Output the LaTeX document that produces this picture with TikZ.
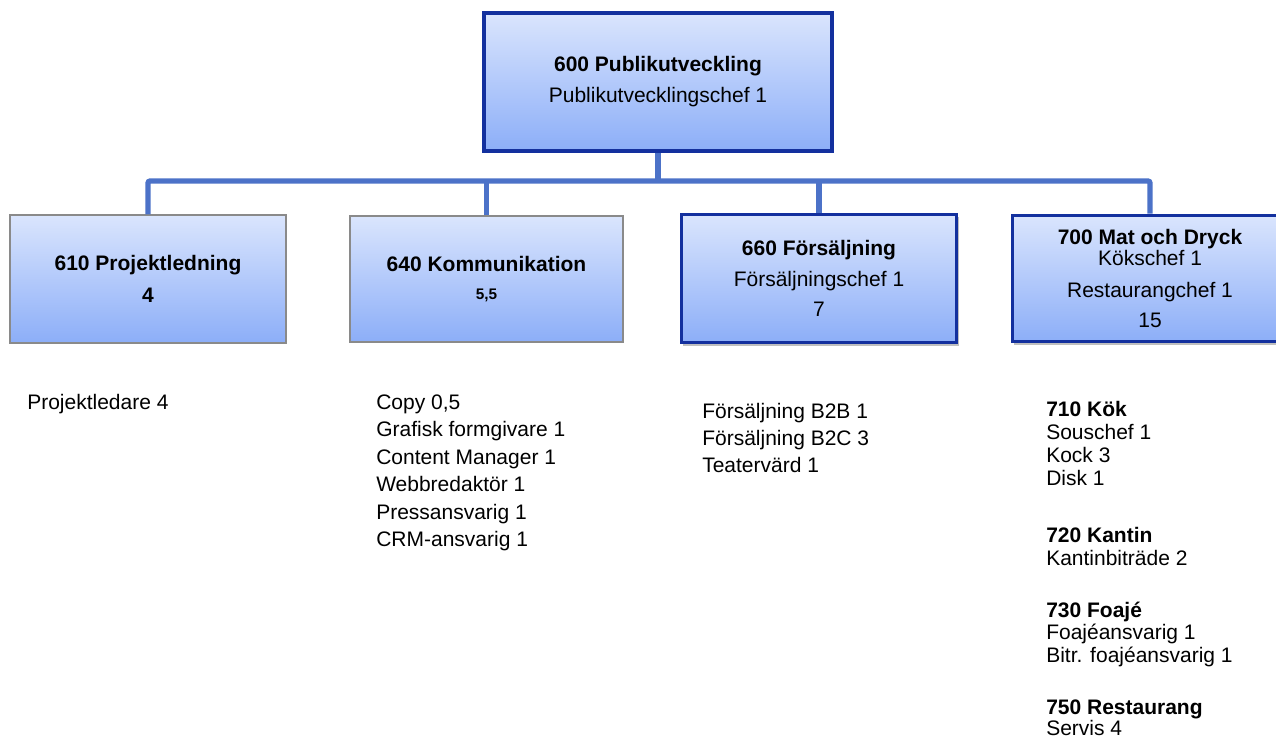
\documentclass[tikz,border=0pt]{standalone}
\usepackage{fontspec}
\setmainfont{Liberation Sans}
\usetikzlibrary{shadows}
\definecolor{connblue}{HTML}{4C72C8}
\definecolor{boxblue}{HTML}{13309E}
\definecolor{boxgray}{HTML}{8A8A8A}
\definecolor{boxtop}{HTML}{DAE5FD}
\definecolor{boxbot}{HTML}{8CAEF8}
\tikzset{
  orgbox/.style={rectangle, inner sep=0pt, top color=boxtop, bottom color=boxbot,
    align=center, text=black, font=\fontsize{15.75pt}{23.25pt}\selectfont},
  plainbox/.style={orgbox, draw=boxgray, line width=1.1pt},
  strongbox/.style={orgbox, draw=boxblue, line width=2.25pt},
  topbox/.style={orgbox, draw=boxblue, line width=3pt},
  shadowed/.style={drop shadow={shadow xshift=1.5pt, shadow yshift=-2.5pt, fill=black, opacity=0.25}},
  conn/.style={draw=connblue, line width=3.9pt, rounded corners=1.5pt},
  listtext/.style={anchor=base west, inner sep=0pt, text=black, font=\fontsize{15.75pt}{18pt}\selectfont},
}
\begin{document}
\begin{tikzpicture}[x=0.75pt,y=-0.75pt]
\useasboundingbox (0,0) rectangle (1276,737);
\fill[white] (0,0) rectangle (1276,737);

% boxes
\node[topbox, minimum width=261pt, minimum height=104pt] (n600) at (658,82)
  {\textbf{600 Publikutveckling}\\Publikutvecklingschef 1};
\node[plainbox, minimum width=207pt, minimum height=96pt] (n610) at (148,279)
  {\textbf{610 Projektledning}\\[0.75pt]\textbf{4}};
\node[plainbox, minimum width=204.75pt, minimum height=94.5pt] (n640) at (486.5,279)
  {\textbf{640 Kommunikation}\\[-2.25pt]{\fontsize{11.5pt}{13pt}\selectfont\bfseries 5,5}};
\node[strongbox, shadowed, minimum width=206.5pt, minimum height=96.5pt] (n660) at (819,278.5)
  {\textbf{660 Försäljning}\\[-0.35pt]Försäljningschef 1\\[-0.35pt]7};
\node[strongbox, shadowed, minimum width=206.5pt, minimum height=95pt] (n700) at (1150,278.5)
  {\textbf{700 Mat och Dryck}\\[-7.5pt]Kökschef 1\\[0.75pt]Restaurangchef 1\\[-0.75pt]15};

% connectors
\coordinate (bus) at (658,181);
\draw[conn] (n610.north) |- (bus) -| (n700.north);
\draw[conn] (n600.south) -- (bus);
\draw[conn] (n640.north) -- (n640.north |- bus);
\draw[conn] (n660.north) -- (n660.north |- bus);

% lists
\node[listtext] (p1) at (27,409) {Projektledare 4};

\node[listtext] (k1) at (376,409) {Copy 0,5};
\node[listtext] (k2) at (376,436.5) {Grafisk formgivare 1};
\node[listtext] (k3) at (376,464) {Content Manager 1};
\node[listtext] (k4) at (376,491.5) {Webbredaktör 1};
\node[listtext] (k5) at (376,519) {Pressansvarig 1};
\node[listtext] (k6) at (376,546.5) {CRM-ansvarig 1};

\node[listtext] (f1) at (702,418) {Försäljning B2B 1};
\node[listtext] (f2) at (702,445) {Försäljning B2C 3};
\node[listtext] (f3) at (702,472) {Teatervärd 1};

\node[listtext] (m1) at (1046,416) {\textbf{710 Kök}};
\node[listtext] (m2) at (1046,439) {Souschef 1};
\node[listtext] (m3) at (1046,462) {Kock 3};
\node[listtext] (m4) at (1046,485) {Disk 1};

\node[listtext] (m5) at (1046,542) {\textbf{720 Kantin}};
\node[listtext] (m6) at (1046,565) {Kantinbiträde 2};

\node[listtext] (m7) at (1046,617) {\textbf{730 Foajé}};
\node[listtext] (m8) at (1046,639) {Foajéansvarig 1};
\node[listtext] (m9) at (1046,662) {Bitr. foajéansvarig 1};

\node[listtext] (m10) at (1046,714) {\textbf{750 Restaurang}};
\node[listtext] (m11) at (1046,735) {Servis 4};
\end{tikzpicture}
\end{document}
